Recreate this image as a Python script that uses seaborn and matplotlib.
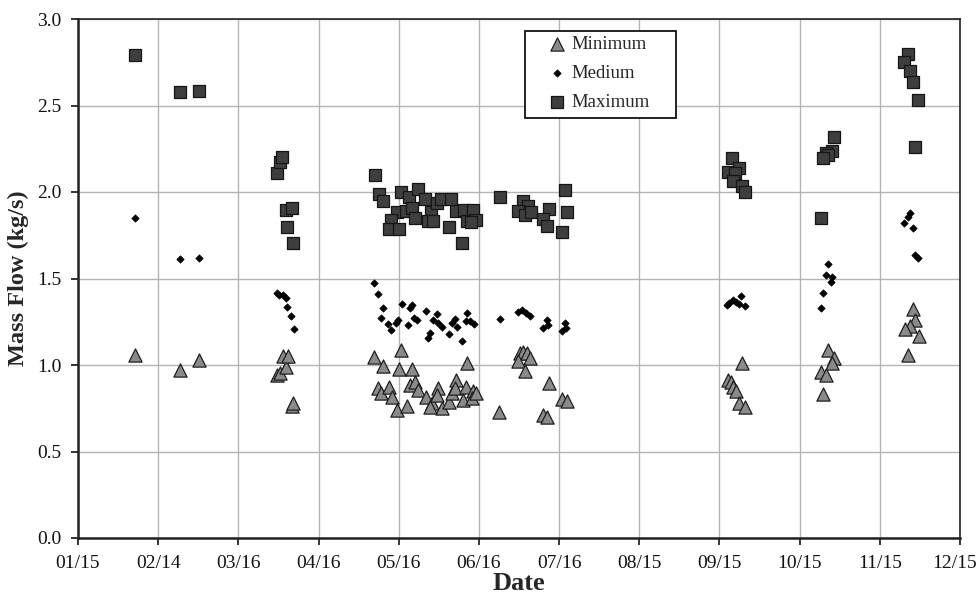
import numpy as np
import pandas as pd
import matplotlib
matplotlib.use("Agg")
import matplotlib.pyplot as plt
import matplotlib.transforms as mtransforms
from matplotlib.patches import Rectangle
import seaborn as sns

# ---- data (x = day of year) ----
tick_labels = ["01/15", "02/14", "03/16", "04/16", "05/16", "06/16",
               "07/16", "08/15", "09/15", "10/15", "11/15", "12/15"]

min_day = [36.6, 53.7, 60.9,
           90.4, 91.8, 92.9, 93.9, 94.8, 96.1, 96.7,
           127.4, 137.5, 130.8, 136.9, 141.8, 162.7, 128.9, 129.8, 133.1, 134.0,
           140.9, 142.8, 144.1, 147.2, 149.2, 151.7, 151.1, 153.0, 148.5, 155.8,
           156.7, 158.4, 158.0, 162.2, 160.9, 164.9, 164.3, 166.0, 135.9, 139.9,
           182.6, 183.9, 185.5, 186.4, 182.0, 184.6, 193.7, 174.8, 191.5, 192.8, 198.5, 200.6,
           266.7, 261.7, 262.6, 263.6, 264.6, 265.8, 268.0,
           299.6, 301.8, 300.9, 296.7, 298.9, 297.5,
           331.8, 332.7, 330.6, 328.7, 334.0, 329.7]
min_val = [1.06, 0.97, 1.03,
           0.94, 0.955, 1.05, 0.99, 1.05, 0.765, 0.78,
           1.048, 1.087, 0.994, 0.975, 0.975, 1.01, 0.865, 0.84, 0.875, 0.817,
           0.887, 0.904, 0.855, 0.817, 0.782, 0.865, 0.827, 0.75, 0.76, 0.789,
           0.837, 0.913, 0.865, 0.871, 0.798, 0.847, 0.808, 0.84, 0.74, 0.763,
           1.071, 1.077, 1.071, 1.039, 1.025, 0.967, 0.898, 0.73, 0.711, 0.701, 0.802, 0.794,
           1.01, 0.913, 0.904, 0.875, 0.852, 0.779, 0.756,
           1.087, 1.039, 1.013, 0.961, 0.942, 0.832,
           1.322, 1.26, 1.225, 1.206, 1.168, 1.058]

med_day = [36.6, 53.7, 60.9,
           90.4, 91.2, 92.9, 93.8, 94.4, 95.8, 96.9,
           127.4, 128.9, 130.8, 129.8, 132.7, 133.7, 135.6, 136.5, 137.8, 140.0,
           140.9, 141.8, 142.6, 143.7, 146.9, 147.7, 148.6, 149.5, 151.1, 151.7,
           153.0, 155.6, 156.7, 158.0, 158.6, 160.8, 162.4, 162.2, 163.7, 165.3,
           175.1, 182.0, 183.3, 184.9, 186.4, 192.8, 193.4, 191.5, 199.7, 200.1, 198.5,
           261.2, 262.0, 263.3, 264.6, 266.5, 265.8, 268.0,
           299.6, 298.7, 301.2, 300.6, 297.5, 296.7,
           330.6, 329.7, 328.4, 331.8, 332.7, 333.8]
med_val = [1.85, 1.615, 1.62,
           1.418, 1.405, 1.405, 1.39, 1.337, 1.285, 1.208,
           1.472, 1.409, 1.328, 1.27, 1.237, 1.202, 1.245, 1.26, 1.353, 1.231,
           1.328, 1.347, 1.273, 1.26, 1.314, 1.154, 1.187, 1.26, 1.293, 1.241,
           1.222, 1.179, 1.241, 1.264, 1.222, 1.138, 1.299, 1.256, 1.256, 1.235,
           1.264, 1.308, 1.318, 1.303, 1.283, 1.26, 1.231, 1.212, 1.241, 1.212, 1.197,
           1.345, 1.357, 1.376, 1.366, 1.399, 1.351, 1.341,
           1.582, 1.52, 1.51, 1.482, 1.414, 1.328,
           1.877, 1.857, 1.819, 1.79, 1.636, 1.617]

max_day = [36.6, 53.7, 60.9,
           90.6, 91.6, 92.3, 93.8, 94.4, 96.1, 96.7,
           127.5, 129.3, 130.8, 137.6, 140.7, 143.9, 146.7, 135.9, 139.4, 141.8,
           133.7, 133.1, 136.6, 142.8, 148.8, 147.9, 149.5, 151.1, 152.8, 156.5,
           158.4, 161.4, 164.7, 155.6, 162.7, 165.9, 164.1, 160.7,
           175.1, 183.9, 185.8, 182.0, 184.6, 186.7, 193.7, 191.5, 192.8, 199.7, 200.6, 198.6,
           263.0, 265.7, 261.4, 264.2, 263.6, 266.7, 268.0,
           301.8, 300.9, 298.7, 299.6, 297.5, 296.7,
           330.0, 328.3, 330.6, 331.6, 333.7, 332.7]
max_val = [2.79, 2.58, 2.585,
           2.11, 2.175, 2.20, 1.896, 1.80, 1.905, 1.707,
           2.098, 1.987, 1.95, 2.00, 1.973, 2.017, 1.96, 1.883, 1.89, 1.91,
           1.838, 1.784, 1.788, 1.848, 1.887, 1.832, 1.832, 1.935, 1.96, 1.958,
           1.893, 1.894, 1.894, 1.797, 1.83, 1.838, 1.826, 1.707,
           1.973, 1.95, 1.921, 1.892, 1.867, 1.883, 1.902, 1.842, 1.805, 2.012, 1.886, 1.767,
           2.195, 2.141, 2.118, 2.108, 2.064, 2.037, 1.998,
           2.316, 2.237, 2.224, 2.214, 2.198, 1.848,
           2.796, 2.754, 2.699, 2.634, 2.532, 2.258]

df_min = pd.DataFrame({"day": min_day, "flow": min_val})
df_med = pd.DataFrame({"day": med_day, "flow": med_val})
df_max = pd.DataFrame({"day": max_day, "flow": max_val})

sns.set_style("ticks")
plt.rcParams["font.family"] = ["Liberation Serif", "DejaVu Serif"]

W, H = 980, 596
fig = plt.figure(figsize=(W / 100, H / 100), dpi=100)
ax = fig.add_axes([78 / W, 1 - 538 / H, 882 / W, 519 / H])

sns.scatterplot(data=df_min, x="day", y="flow", marker="^", s=90,
                color="#8a8a8a", edgecolor="#1e1e1e", linewidth=0.9,
                label="Minimum", ax=ax, zorder=3)
sns.scatterplot(data=df_med, x="day", y="flow", marker="D", s=14,
                color="#000000", edgecolor="#000000", linewidth=0.5,
                label="Medium", ax=ax, zorder=4)
sns.scatterplot(data=df_max, x="day", y="flow", marker="s", s=80,
                color="#3e3e3e", edgecolor="#151515", linewidth=0.9,
                label="Maximum", ax=ax, zorder=5)

start = 15.0
end = 15.0 + 11 * 365 / 12
ax.set_xlim(start, end)
ax.set_xticks(np.linspace(start, end, len(tick_labels)))
ax.set_xticklabels(tick_labels)
ax.set_ylim(0, 3.0)
ax.set_yticks(np.arange(0, 3.01, 0.5))
ax.set_yticklabels([f"{v:.1f}" for v in np.arange(0, 3.01, 0.5)])

ax.grid(True, color="#b4b4b4", linewidth=1.0, zorder=0)
ax.set_axisbelow(True)
for side in ["top", "right"]:
    ax.spines[side].set_visible(True)
    ax.spines[side].set_linewidth(1.2)
    ax.spines[side].set_color("#222222")
for side in ["left", "bottom"]:
    ax.spines[side].set_linewidth(1.8)
    ax.spines[side].set_color("#222222")

ax.tick_params(axis="both", labelsize=14, length=5, width=1.2,
               direction="out", colors="#111111")
ax.tick_params(axis="x", pad=7)
ax.tick_params(axis="y", pad=7)
# last x label nudged left so it stays inside the figure (as in the reference)
last = ax.get_xticklabels()[-1]
last.set_transform(last.get_transform() +
                   mtransforms.ScaledTranslation(-5 / 100, 0, fig.dpi_scale_trans))

ax.set_xlabel("Date", fontsize=19, fontweight="bold", labelpad=0)
ax.set_ylabel("Mass Flow (kg/s)", fontsize=17.5, fontweight="bold", labelpad=6)

# legend (entries) and its box
leg = ax.legend(loc="upper left",
                bbox_to_anchor=((548 - 78) / 882, (538 - 36) / 519),
                fontsize=13.5, frameon=False,
                handletextpad=0.25, labelspacing=0.62, borderpad=0,
                handlelength=1.0, borderaxespad=0)
ax.add_patch(Rectangle(((525 - 78) / 882, (538 - 118) / 519),
                       (676 - 525) / 882, (118 - 31) / 519,
                       transform=ax.transAxes, facecolor="white",
                       edgecolor="#111111", linewidth=1.3, zorder=6))
leg.set_zorder(7)

fig.savefig("out.png", dpi=100)
